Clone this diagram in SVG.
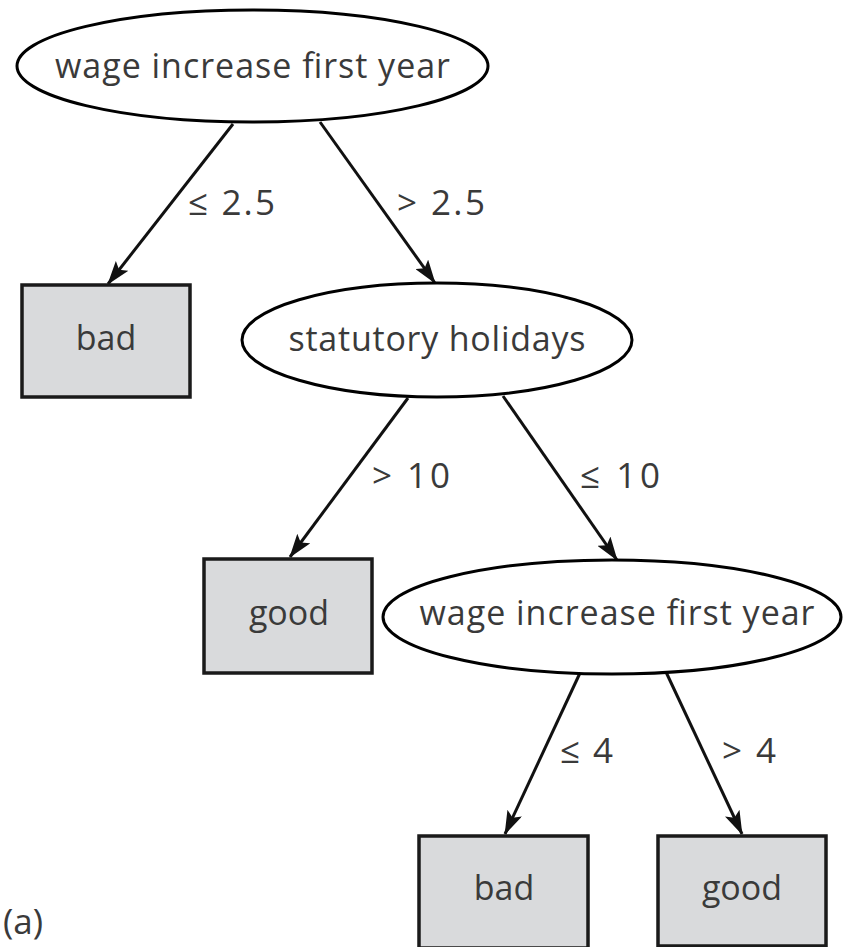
<svg xmlns="http://www.w3.org/2000/svg" width="843" height="947" viewBox="0 0 843 947">
<style>
.el{fill:#fff;stroke:#000;stroke-width:3}
.bx{fill:#d9dadc;stroke:#1a1a1a;stroke-width:3.5}
.t{font-family:"Open Sans","Liberation Sans",sans-serif;font-size:34px;fill:#3a3a3a;text-anchor:middle}
.l{font-family:"Open Sans","Liberation Sans",sans-serif;font-size:35px;fill:#3a3a3a}
.c{stroke:#111;stroke-width:3;fill:none;marker-end:url(#ah)}
</style>
<defs>
<marker id="ah" viewBox="0 0 24 16" refX="23" refY="8" markerWidth="24" markerHeight="16" markerUnits="userSpaceOnUse" orient="auto">
<path d="M0,0 L24,8 L0,16 L5,8 Z" fill="#111"/>
</marker>
</defs>
<rect width="843" height="947" fill="#fff"/>
<g id="connectors">
<line class="c" x1="233" y1="124" x2="108" y2="284"/>
<line class="c" x1="320" y1="122" x2="435" y2="283"/>
<line class="c" x1="408" y1="398" x2="290" y2="557"/>
<line class="c" x1="503" y1="396" x2="617" y2="560"/>
<line class="c" x1="580" y1="673" x2="505" y2="834"/>
<line class="c" x1="666" y1="672" x2="742" y2="834"/>
<text class="l" x="188" y="215" textLength="87" lengthAdjust="spacing">≤ 2.5</text>
<text class="l" x="397" y="215" textLength="88" lengthAdjust="spacing">&gt; 2.5</text>
<text class="l" x="372" y="488" textLength="78" lengthAdjust="spacing">&gt; 10</text>
<text class="l" x="580" y="488" textLength="80" lengthAdjust="spacing">≤ 10</text>
<text class="l" x="560" y="763" textLength="53" lengthAdjust="spacing">≤ 4</text>
<text class="l" x="722" y="763" textLength="54" lengthAdjust="spacing">&gt; 4</text>
</g>
<g id="n1">
<ellipse class="el" cx="252.5" cy="66" rx="235.5" ry="56"/>
<text class="t" x="252.5" y="78" textLength="395" lengthAdjust="spacing">wage increase first year</text>
</g>
<g id="n2">
<rect class="bx" x="22" y="285" width="168" height="112"/>
<text class="t" x="106" y="350">bad</text>
</g>
<g id="n3">
<ellipse class="el" cx="437" cy="340" rx="195" ry="57"/>
<text class="t" x="437" y="351" textLength="297" lengthAdjust="spacing">statutory holidays</text>
</g>
<g id="n4">
<rect class="bx" x="204" y="559" width="168" height="114"/>
<text class="t" x="289" y="625">good</text>
</g>
<g id="n5">
<ellipse class="el" cx="612" cy="617" rx="229" ry="57"/>
<text class="t" x="617" y="625" textLength="395" lengthAdjust="spacing">wage increase first year</text>
</g>
<g id="n6">
<rect class="bx" x="419" y="836" width="169" height="112"/>
<text class="t" x="504" y="900">bad</text>
</g>
<g id="n7">
<rect class="bx" x="658" y="836" width="168" height="110"/>
<text class="t" x="742" y="900">good</text>
</g>
<text class="l" x="3" y="934">(a)</text>
</svg>
